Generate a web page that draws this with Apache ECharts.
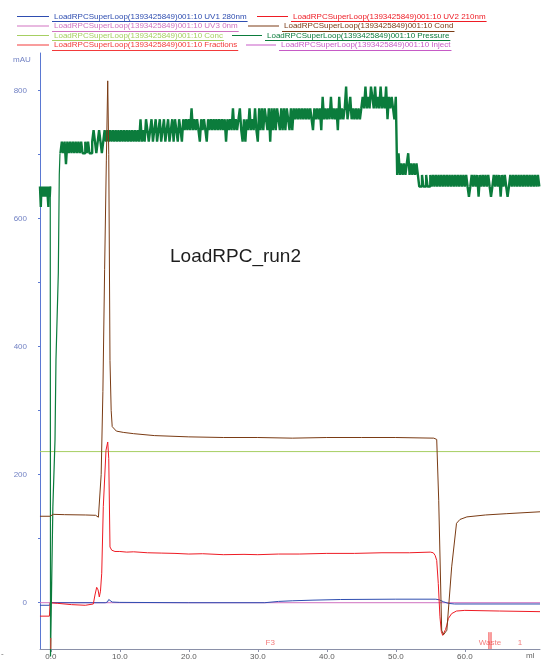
<!DOCTYPE html>
<html><head><meta charset="utf-8">
<script src="https://cdn.jsdelivr.net/npm/echarts@6/dist/echarts.min.js"></script>
<style>html,body{margin:0;padding:0;background:#fff}#c{width:549px;height:664px}</style>
</head><body><div id="c"></div>
<script>
// ---------- names ----------
const base = 'LoadRPCSuperLoop(1393425849)001:10 ';
const nameUV1 = base + 'UV1 280nm';
const nameUV2 = base + 'UV2 210nm';
const nameUV3 = base + 'UV3 0nm';
const nameCond = base + 'Cond';
const nameConc = base + 'Conc';
const namePressure = base + 'Pressure';
const nameFractions = base + 'Fractions';
const nameInject = base + 'Inject';

// ---------- tick values ----------
const xTickValues = [0, 10, 20, 30, 40, 50, 60];
const yLabelValues = [0, 200, 400, 600, 800];
const yTickValues = [0, 100, 200, 300, 400, 500, 600, 700, 800];

// ---------- series data [ml, value] ----------
const uv1_280 = [[-1.57,-4],[-0.15,-4],[-0.05,0],[6,0],[7.9,0],[8.2,1],[8.4,5],[8.6,2],[8.9,1],[10,0.5],[20,0],[31,0],[33,2],[35,3],[38,4],[42,5],[50,5.5],[55.8,5.5],[56.3,4.5],[56.9,1.5],[57.6,-1],[58.5,-2],[70.9,-2]];

const uv2_210 = [[-1.57,-21],[-0.2,-21],[-0.1,0],[1,-1],[3,-3],[5,-4],[6.16,-2],[6.4,12],[6.65,24],[6.85,20],[7.03,9],[7.2,18],[7.38,46],[7.61,150],[8.0,238],[8.25,251],[8.4,225],[8.58,87],[8.83,82],[9.3,80],[10,80],[11,79],[12,79.5],[14,78],[16,77.5],[18,77],[20,76],[22,76.5],[25,75],[28,75.5],[30,75],[33,76],[36,76],[40,77],[44,77],[48,78],[52,78],[55.0,79],[55.43,78],[55.7,74],[55.93,66],[56.16,30],[56.4,-22],[56.6,-45],[56.8,-51],[57.0,-48],[57.2,-42],[57.4,-35],[57.6,-25],[58.1,-17],[58.8,-13],[60,-12],[65,-13],[70.9,-14]];

const uv3_0 = [[-1.57,0],[70.9,0]];

const cond = [[-1.57,135],[-0.1,135],[0.35,138],[2,137.5],[5,137],[6.5,136.5],[6.9,133.5],[7.1,136],[7.3,200],[7.55,330],[7.8,520],[8.05,690],[8.25,815],[8.4,700],[8.58,378],[8.75,300],[8.9,275],[9.5,268],[10.5,266],[12,264],[15,261],[20,259],[25,258],[30,258],[35,257],[40,258],[45,258],[50,258],[55.5,257],[55.93,255],[56.22,160],[56.65,-43],[56.92,-50],[57.15,-48],[57.4,-43],[58.1,56],[58.8,124],[59.3,130],[60.3,134],[63,137],[66,139],[70.9,142]];

const conc = [[-1.57,236],[70.9,236]];

// pressure: initial noisy band, the drop/re-rise, then the long noisy trace
const pressureStartBand = [[-1.57,650],[-1.45,618],[-1.35,650],[-1.25,634],[-1.15,650],[-1.05,634],[-0.95,650],[-0.85,634],[-0.75,650],[-0.65,634],[-0.55,650],[-0.45,634],[-0.35,618],[-0.25,650],[-0.15,634],[-0.08,650]];
const pressureTransition = [[-0.08,650],[-0.04,-84],[0.0,-84],[0.3,150],[0.61,254],[0.75,379],[1.09,515],[1.23,668],[1.33,702],[1.4,702]];
const pressureBodyStart = 1.4;
const pressureBodyStep = 0.2;
const pressureBody = [
702,720,702,720,685,720,702,720,702,720,702,720,702,720,702,720,702,702,720,702,720,702,702,
720,738,720,702,720,738,720,702,720,738,
720,738,720,738,720,738,720,738,720,738,
720,738,720,738,720,738,720,738,720,738,
720,738,720,738,720,755,720,738,720,755,
738,720,738,755,720,738,755,720,738,755,
720,738,755,720,738,755,720,738,755,720,
755,738,720,755,738,720,
755,738,755,738,755,738,772,738,755,738,
755,738,720,755,738,755,738,720,755,738,
755,738,755,738,755,738,755,738,755,738,
755,720,755,738,755,738,
772,738,755,738,755,772,738,720,755,720,
755,738,772,738,755,738,772,738,720,772,
738,772,738,772,755,738,772,720,772,738,
772,738,772,755,738,772,738,772,738,772,
755,738,772,738,772,
755,772,755,772,755,772,755,772,755,772,
755,772,755,738,772,755,772,755,772,738,
790,755,772,755,772,755,790,755,772,755,
772,738,790,755,772,755,772,806,
755,772,790,755,772,755,772,755,772,755,772,790,
772,806,772,790,772,806,790,772,806,772,790,772,806,772,790,772,806,
755,790,772,790,772,755,790,
668,702,668,686,668,686,668,686,702,668,686,668,686,668,686,668,
650,650,668,650,650,668,650,650,668,650,668,650,668,650,
668,650,668,650,668,650,668,650,668,650,
668,650,668,650,668,650,668,650,668,650,
668,650,634,650,668,650,668,650,668,634,
668,650,668,650,668,650,668,650,634,650,
668,650,668,650,668,634,668,650,668,650,
634,650,668,650,668,650,668,650,668,650,
668,650,668,650,668,650,668,650,668,650,
668,650,668,650
];

// fractions: tick marks (ml, top value) and labels (ml, text)
const fractionTicks = [[0,-55],[63.5,-46],[63.8,-46]];
const fractionLabels = [[31.8,'F3'],[63.65,'Waste'],[68.0,'1']];

// ---------- build ----------
const yMin = -72.3, yMax = 858.5, xMin = -1.565, xMax = 70.9;
const pressureMain = pressureBody.map((v,i)=>[+(pressureBodyStart + i*pressureBodyStep).toFixed(2), v]);
const fractionLine = [];
fractionTicks.forEach(t => { fractionLine.push([t[0], yMin], [t[0], t[1]], [t[0], '-']); });
const fractionLabelData = fractionLabels.map(f => ({ value: [f[0], -63], name: f[1] }));

const colors = {
  uv1: '#2e4db0', uv2: '#ee1b24', uv3: '#d072c0', cond: '#7a3b14',
  conc: '#a6cf62', pressure: '#0b7c3c', fractions: '#f23a3a', inject: '#c65ac6'
};
const font = 'Liberation Sans';

function lineSeries(name, data, color, extra, width) {
  return Object.assign({
    name, type: 'line', data, showSymbol: false, symbol: 'none',
    lineStyle: { color, width: width || 1 }, itemStyle: { color },
    animation: false, silent: true
  }, extra || {});
}

const legendItems = [
  { name: nameUV1, color: colors.uv1, left: 17, w: 32, row: 0 },
  { name: nameUV2, color: colors.uv2, left: 257, w: 31, row: 0 },
  { name: nameUV3, color: colors.uv3, left: 17, w: 32, row: 1 },
  { name: nameCond, color: colors.cond, left: 248, w: 31, row: 1 },
  { name: nameConc, color: colors.conc, left: 17, w: 32, row: 2 },
  { name: namePressure, color: colors.pressure, left: 232, w: 30, row: 2 },
  { name: nameFractions, color: colors.fractions, left: 17, w: 32, row: 3 },
  { name: nameInject, color: colors.inject, left: 246, w: 30, row: 3 }
];
const rowCenters = [16.5, 26, 35.5, 45];

const measure = document.createElement('canvas').getContext('2d');
measure.font = '8px "' + font + '"';

const legends = legendItems.map(it => ({
  data: [{ name: it.name, textStyle: { color: it.color } }],
  left: it.left, top: rowCenters[it.row] - 4, padding: 0,
  itemWidth: it.w, itemHeight: 1, icon: 'rect', selectedMode: false,
  textStyle: { fontSize: 8, fontFamily: font, color: it.color }
}));

const graphics = [];
legendItems.forEach(it => {
  const tx = it.left + it.w + 5;
  const tw = measure.measureText(it.name).width;
  const y = Math.round(rowCenters[it.row] + 4.5) + 0.5;
  graphics.push({ type: 'line', shape: { x1: tx - 2, y1: y, x2: tx + tw + 1, y2: y }, style: { stroke: it.color, lineWidth: 1 }, silent: true });
});
graphics.push({ type: 'text', left: 170, top: 247, style: { text: 'LoadRPC_run2', font: '19px "' + font + '"', fill: '#1e1e1e' } });
graphics.push({ type: 'text', left: 13, top: 56, style: { text: 'mAU', font: '8px "' + font + '"', fill: '#7282c4' } });
graphics.push({ type: 'text', left: 526, top: 652, style: { text: 'ml', font: '8px "' + font + '"', fill: '#666' } });
graphics.push({ type: 'text', left: 1, top: 650, style: { text: '-', font: '8px "' + font + '"', fill: '#666' } });

const chart = echarts.init(document.getElementById('c'), null, { renderer: 'canvas' });
chart.setOption({
  backgroundColor: '#fff',
  animation: false,
  legend: legends,
  grid: { left: 40, right: 9, top: 53, bottom: 15, containLabel: false },
  xAxis: {
    type: 'value', min: xMin, max: xMax,
    axisLine: { onZero: false, lineStyle: { color: '#8a90a8', width: 1 } },
    axisTick: { show: true, customValues: xTickValues, length: 3, lineStyle: { color: '#8a90a8' } },
    axisLabel: { customValues: xTickValues, formatter: v => v.toFixed(1), fontSize: 8, fontFamily: font, color: '#5a5a5a', margin: 4 },
    splitLine: { show: false }
  },
  yAxis: {
    type: 'value', min: yMin, max: yMax,
    axisLine: { show: true, onZero: false, lineStyle: { color: '#5a78d2', width: 1 } },
    axisTick: { show: true, customValues: yTickValues, length: 2, lineStyle: { color: '#5a78d2' } },
    axisLabel: { customValues: yLabelValues, fontSize: 8, fontFamily: font, color: '#7282c4', margin: 13 },
    splitLine: { show: false }
  },
  graphic: graphics,
  series: [
    lineSeries(nameConc, conc, colors.conc),
    lineSeries(nameUV3, uv3_0, colors.uv3),
    lineSeries(nameUV1, uv1_280, colors.uv1),
    lineSeries(nameUV2, uv2_210, colors.uv2),
    lineSeries(namePressure, pressureStartBand, colors.pressure, { step: 'end' }, 2.4),
    lineSeries(namePressure, pressureTransition, colors.pressure, { clip: false }, 1.2),
    lineSeries(namePressure, pressureMain, colors.pressure, { step: 'end' }, 2.4),
    lineSeries(nameCond, cond, colors.cond),
    lineSeries(nameFractions, fractionLine, colors.fractions, { connectNulls: false }),
    lineSeries(nameInject, [], colors.inject),
    {
      name: 'fractionLabels', type: 'scatter', data: fractionLabelData, symbolSize: 0,
      silent: true, animation: false,
      label: { show: true, position: 'inside', formatter: p => p.name, fontSize: 8, fontFamily: font, color: '#f05a5a' }
    }
  ]
});
</script>
</body></html>
